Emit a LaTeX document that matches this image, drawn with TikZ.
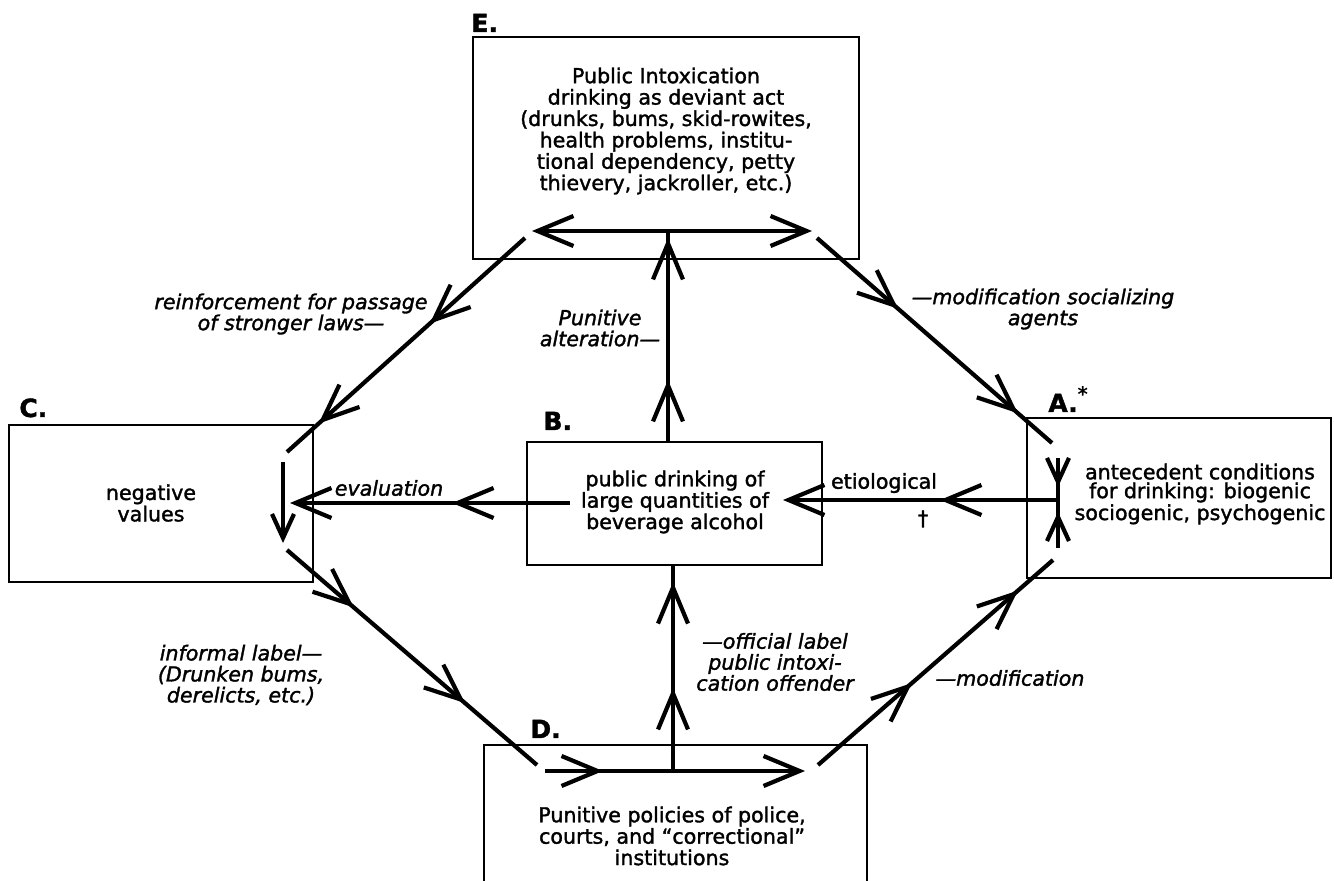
\documentclass[tikz,border=0pt]{standalone}
\usepackage{fontspec}
\setmainfont{DejaVu Sans}[FakeBold=1.6]
\usetikzlibrary{arrows.meta,decorations.markings}

\tikzset{
  chev/.tip={Straight Barb[length=18pt,width=15pt]},
  chevs/.tip={Straight Barb[length=12pt,width=11pt]},
  box/.style={draw, line width=1pt, inner sep=0pt, outer sep=0pt},
  boxtext/.style={align=center, inner sep=0pt, font=\fontsize{10.3}{10.7}\selectfont},
  note/.style={align=center, inner sep=0pt, font=\fontsize{10.3}{10.5}\selectfont\itshape},
  plain/.style={align=center, inner sep=0pt, font=\fontsize{10.3}{10.5}\selectfont},
  lab/.style={anchor=base west, inner sep=0pt, font=\fontsize{12.5}{13}\selectfont\bfseries},
  flow/.style={line width=2.1pt},
  markone/.style={postaction={decorate}, decoration={markings,
      mark=at position #1 with {\arrow{chev}}}},
  markones/.style={postaction={decorate}, decoration={markings,
      mark=at position #1 with {\arrow{chevs}}}},
  marktwo/.style 2 args={postaction={decorate}, decoration={markings,
      mark=at position #1 with {\arrow{chev}},
      mark=at position #2 with {\arrow{chev}}}},
}

\begin{document}
\begin{tikzpicture}[x=0.5pt, y=-0.5pt]
\useasboundingbox (0,0) rectangle (1334,881);

% ---- the five boxes (D runs off the bottom of the page)
\node[box, minimum width=193pt,   minimum height=111pt]  (E) at (666,148)   {};
\node[box, minimum width=147.5pt, minimum height=61.5pt] (B) at (674.5,503.5) {};
\node[box, minimum width=152pt,   minimum height=78.5pt] (C) at (161,503.5) {};
\node[box, minimum width=152pt,   minimum height=80pt]   (A) at (1179,498)  {};
\node[box, minimum width=191.5pt, minimum height=80pt]   (D) at (675.5,825) {};

% ---- box letters
\node[lab] (Elab) at (471,32)  {E.};
\node[lab] (Blab) at (543,430) {B.};
\node[lab] (Clab) at (19,417)  {C.};
\node[lab] (Dlab) at (530,738) {D.};
\node[lab] (Alab) at (1048,412) {A.\raisebox{0.8ex}{\fontsize{10}{10}\selectfont\mdseries *}};

% ---- box contents
\node[boxtext] (Etxt) at (666,131) {Public Intoxication\\drinking as deviant act\\(drunks, bums, skid-rowites,\\health problems, institu-\\tional dependency, petty\\thievery, jackroller, etc.)};
\node[boxtext] (Btxt) at (675,502) {public drinking of\\large quantities of\\beverage alcohol};
\node[boxtext] (Ctxt) at (151,503) {negative\\values};
\node[boxtext, font=\fontsize{10.3}{9.4}\selectfont] (Atxt) at (1200,494) {antecedent conditions\\for drinking: biogenic\\sociogenic, psychogenic};
\node[boxtext] (Dtxt) at (672,836) {Punitive policies of police,\\courts, and “correctional”\\institutions};

% ---- connector labels
\node[note] (l1) at (291,314)  {reinforcement for passage\\of stronger laws—};
\node[note] (l2) at (600,328)  {Punitive\\alteration—};
\node[note] (l3) at (1043,309) {—modification socializing\\agents};
\node[note] (l4) at (389,488)  {evaluation};
\node[plain] (l5) at (884,483) {etiological};
\node[plain] (l6) at (923,519) {†};
\node[note] (l7) at (241,675)  {informal label—\\(Drunken bums,\\derelicts, etc.)};
\node[note] (l8) at (775,662)  {—official label\\public intoxi-\\cation offender};
\node[note] (l9) at (1010,678) {—modification};

% ---- connector end points
\coordinate (eL)   at (532,231);
\coordinate (eR)   at (812,231);
\coordinate (bTop) at (668,442);
\coordinate (ecS)  at (525,238);
\coordinate (ecE)  at (287,452);
\coordinate (cdnS) at (283,462);
\coordinate (cdnE) at (283,543);
\coordinate (evS)  at (570,503);
\coordinate (evE)  at (290,503);
\coordinate (cdS)  at (287,550);
\coordinate (cdE)  at (537,765);
\coordinate (dhS)  at (545,771);
\coordinate (dhE)  at (805,771);
\coordinate (dv)   at (673,771);
\coordinate (daS)  at (818,765);
\coordinate (daE)  at (1053,560);
\coordinate (adS)  at (1058,458);
\coordinate (aJ)   at (1058,500);
\coordinate (auS)  at (1058,548);
\coordinate (etE)  at (783,500);
\coordinate (eaS)  at (817,238);
\coordinate (eaE)  at (1052,443);

% ---- connectors
\draw[flow, {chev}-{chev}] (eL) -- (eR);
\draw[flow, marktwo={0.294}{0.967}] (bTop) -- (bTop |- eL);
\draw[flow, marktwo={0.40}{0.867}] (ecS) -- (ecE);
\draw[flow, -{chevs}] (cdnS) -- (cdnE);
\draw[flow, -{chev}, markone={0.421}] (evS) -- (evE);
\draw[flow, marktwo={0.267}{0.712}] (cdS) -- (cdE);
\draw[flow, -{chev}, markone={0.223}] (dhS) -- (dhE);
\draw[flow, marktwo={0.403}{0.917}] (dv) -- (dv |- B.south);
\draw[flow, marktwo={0.40}{0.851}] (daS) -- (daE);
\draw[flow, markones={0.69}] (adS) -- (aJ);
\draw[flow, markones={0.75}] (auS) -- (aJ);
\draw[flow, -{chev}, markone={0.429}] (aJ) -- (etE);
\draw[flow, marktwo={0.345}{0.855}] (eaS) -- (eaE);
\end{tikzpicture}
\end{document}
